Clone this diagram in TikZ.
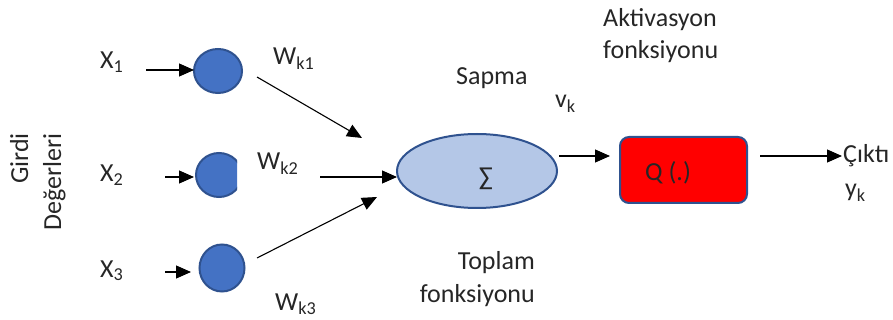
\documentclass[tikz,border=0pt]{standalone}
\usepackage{fontspec}
\setmainfont{Carlito}
\usetikzlibrary{arrows.meta,shapes.geometric}
\definecolor{txt}{HTML}{262626}
\definecolor{circfill}{HTML}{4472C4}
\definecolor{edgeblue}{HTML}{2F528F}
\definecolor{ellfill}{HTML}{B4C7E7}
\begin{document}
\begin{tikzpicture}[x=1pt,y=-1pt,
  font=\fontsize{26}{31}\selectfont,
  lbl/.style={inner sep=0pt,text=txt},
  inpnode/.style={ellipse,draw=edgeblue,fill=circfill,line width=2pt,inner sep=0pt},
  arr/.style={-{Triangle[length=15pt,width=13pt]},line width=1.1pt,black}]
\useasboundingbox (0,0) rectangle (893,320);
% input neurons
\node[inpnode,minimum width=48pt,minimum height=44pt] (c1) at (218,71) {};
\begin{scope}
  \clip (185,145) rectangle (237,205);
  \node[inpnode,minimum width=46pt,minimum height=44pt] (c2) at (219,175) {};
\end{scope}
\node[inpnode,minimum width=45pt,minimum height=47pt] (c3) at (222,268) {};
% labels
\node[lbl,anchor=base west] (x1) at (100,69) {X\textsubscript{1}};
\node[lbl,anchor=base west] (x2) at (100,182) {X\textsubscript{2}};
\node[lbl,anchor=base west] (x3) at (100,277) {X\textsubscript{3}};
\node[lbl,anchor=base east,rotate=90] (girdi) at (28,133) {Girdi};
\node[lbl,anchor=base east,rotate=90] (deg) at (61,133) {Değerleri};
\node[lbl,anchor=base west] (w1) at (273,65) {W\textsubscript{k1}};
\node[lbl,anchor=base west] (w2) at (257,170) {W\textsubscript{k2}};
\node[lbl,anchor=base west] (w3) at (275,310) {W\textsubscript{k3}};
% summation
\node[ellipse,draw=edgeblue,fill=ellfill,line width=2pt,minimum width=160pt,minimum height=74pt,inner sep=0pt] (sum) at (477,171) {};
\node[lbl] (sig) at (486,179) {∑};
\node[lbl,anchor=base west] (sapma) at (456,85) {Sapma};
\node[lbl,anchor=base west] (vk) at (555,108) {v\textsubscript{k}};
\node[lbl,anchor=base east] (top1) at (535,269) {Toplam};
\node[lbl,anchor=base east] (top2) at (535,302) {fonksiyonu};
% activation
\node[draw=edgeblue,fill=red,line width=2pt,rounded corners=9pt,minimum width=127pt,minimum height=66pt,inner sep=0pt] (act) at (683.5,170) {};
\node[lbl,anchor=base west] (q) at (645,181) {Q (.)};
\node[lbl,anchor=base west] (akt1) at (603,27) {Aktivasyon};
\node[lbl,anchor=base west] (akt2) at (603,59) {fonksiyonu};
\node[lbl,anchor=base west] (out) at (843,163) {Çıktı};
\node[lbl,anchor=base west] (yk) at (845,197) {y\textsubscript{k}};
% connector end points
\coordinate (a1s) at (146,70);
\coordinate (a1e) at (194,70);
\coordinate (a2s) at (165,177);
\coordinate (a2e) at (194,177);
\coordinate (a3s) at (165,272);
\coordinate (a3e) at (191,272);
\coordinate (b1s) at (257,77);
\coordinate (b1e) at (362,138);
\coordinate (b2s) at (320,177);
\coordinate (b2e) at (397,177);
\coordinate (b3s) at (257,258);
\coordinate (b3e) at (377,197);
\coordinate (ds) at (559,156);
\coordinate (de) at (610,156);
\coordinate (es) at (760,156);
\coordinate (ee) at (842,156);
% connectors
\draw[arr] (a1s) -- (a1e);
\draw[arr] (a2s) -- (a2e);
\draw[arr] (a3s) -- (a3e);
\draw[arr] (b1s) -- (b1e);
\draw[arr] (b2s) -- (b2e);
\draw[arr] (b3s) -- (b3e);
\draw[arr] (ds) -- (de);
\draw[arr] (es) -- (ee);
\end{tikzpicture}
\end{document}
